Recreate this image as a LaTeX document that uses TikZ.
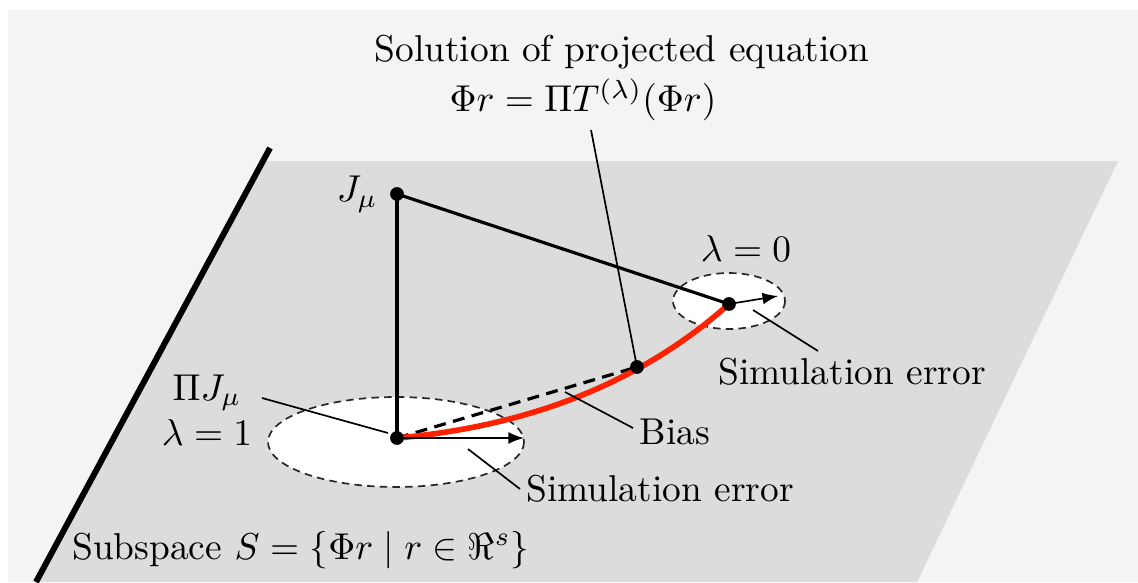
\documentclass[tikz,border=0pt]{standalone}
\usetikzlibrary{arrows,positioning}
\definecolor{bgcol}{HTML}{F4F4F4}
\definecolor{planecol}{HTML}{DCDCDC}
\definecolor{redcurve}{HTML}{FF2200}
\tikzstyle{pt}=[circle,fill=black,inner sep=0pt,minimum size=3.6pt]
\tikzstyle{lbl}=[align=center,inner sep=1pt]
\tikzstyle{leader}=[line width=0.45pt]
\tikzstyle{edge}=[line width=0.85pt]
\tikzstyle{region}=[fill=white,draw=black!85,dash pattern=on 2pt off 1.4pt,line width=0.45pt]
\tikzstyle{err}=[->,>=latex,line width=0.45pt]
\tikzstyle{bias}=[line width=0.85pt,dash pattern=on 3.2pt off 2pt]
\tikzstyle{redline}=[draw=redcurve,line width=1.5pt]

\begin{document}
\begin{tikzpicture}[x=0.0094cm,y=-0.0094cm]
\useasboundingbox (0,0) rectangle (1138,582);
% background and subspace plane
\fill[bgcol] (8,10) rectangle (1138,582);
\fill[planecol] (263.5,161) -- (1118,161) -- (917,582) -- (36,582) -- cycle;
\draw[line width=1.6pt] (270,148) -- (36,582);
% simulation error regions
\draw[region] (396,442) ellipse [x radius=128, y radius=45];
\draw[region] (729,301) ellipse [x radius=56, y radius=28];
% points
\node[pt] (J) at (397,194) {};
\node[pt] (PJ) at (397,438) {};
\node[pt] (L0) at (729,304) {};
\node[pt] (Sol) at (637,367) {};
\coordinate (ArrA) at (524,438);
\coordinate (ArrB) at (778,296);
\draw[edge] (J.center) -- (PJ.center);
\draw[edge] (J.center) -- (L0.center);
\draw[bias] (PJ.center) -- (Sol.center);
\draw[redline] (PJ.center) .. controls (532,426) and (643,381) .. (L0.center);
\draw[err] (PJ.center) -- (ArrA);
\draw[err] (L0.center) -- (ArrB);
\node[pt] at (PJ) {};
\node[pt] at (L0) {};
\node[pt] at (Sol) {};
\node[pt] at (J) {};
% labels
\node[lbl] (sol) at (622,52) {Solution of projected equation};
\node[lbl] (soleq) at (583,100) {$\Phi r=\Pi T^{(\lambda)}(\Phi r)$};
\node[lbl, left=2pt of J] (jlbl) {$J_\mu$};
\node[lbl] (pjlbl) at (207,410) {$\Pi J_\mu$\\$\lambda=1$};
\node[lbl] (l0lbl) at (746,249) {$\lambda=0$};
\node[lbl] (biaslbl) at (675,432) {Bias};
\node[lbl] (errR) at (852,372) {Simulation error};
\node[lbl] (errB) at (660,489) {Simulation error};
\node[lbl] (subsp) at (301,550) {Subspace $S=\{\Phi r\mid r\in\Re^s\}$};
% leader lines
\coordinate (solA) at (591,130);
\coordinate (pjA) at (262,398);
\coordinate (pjB) at (388,433);
\coordinate (biasA) at (565,392);
\coordinate (biasB) at (633,428);
\coordinate (errRA) at (753,310);
\coordinate (errRB) at (818,351);
\coordinate (errBA) at (468,449);
\coordinate (errBB) at (520,489);
\draw[leader] (solA) -- (Sol.center);
\draw[leader] (pjA) -- (pjB);
\draw[leader] (biasA) -- (biasB);
\draw[leader] (errRA) -- (errRB);
\draw[leader] (errBA) -- (errBB);
\end{tikzpicture}
\end{document}
